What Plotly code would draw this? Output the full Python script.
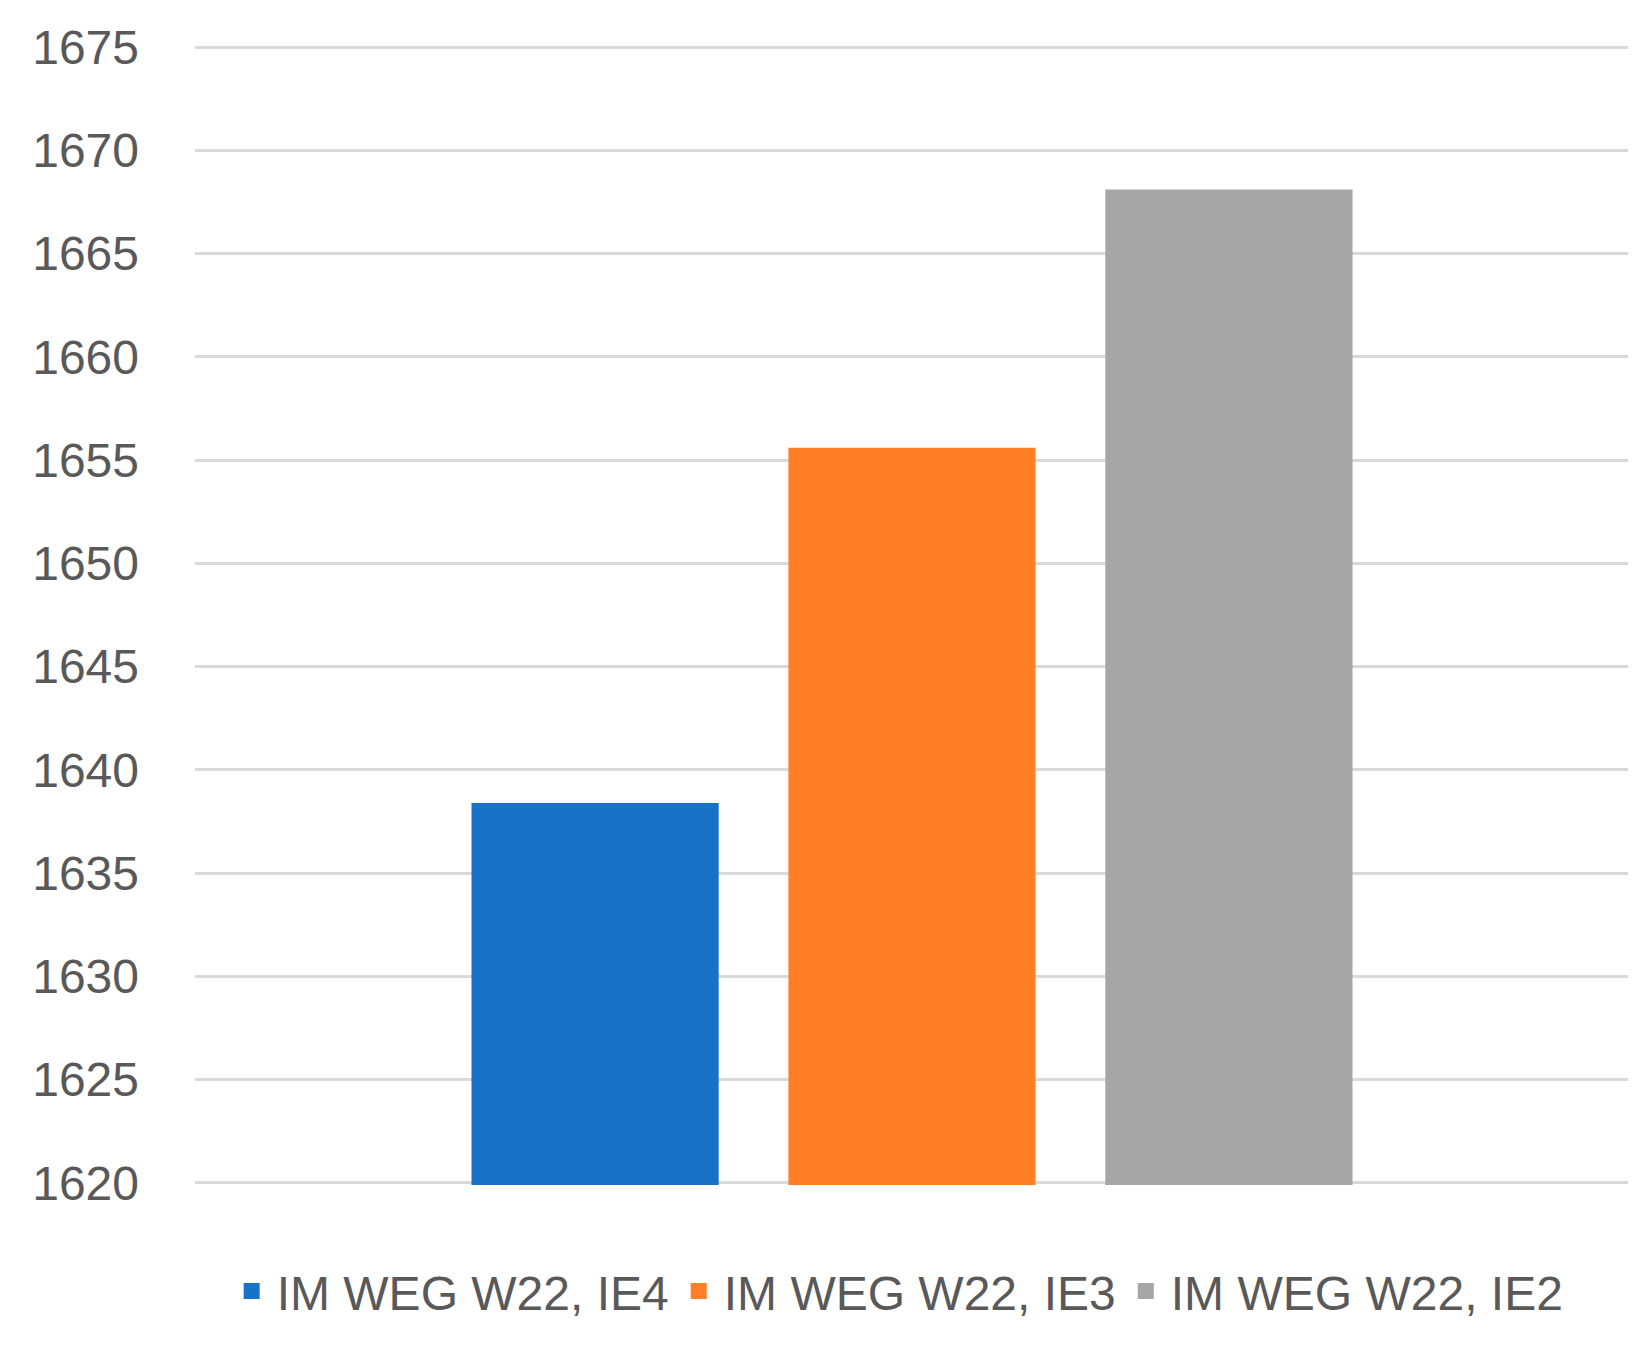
import plotly.graph_objects as go

series = ["IM WEG W22, IE4", "IM WEG W22, IE3", "IM WEG W22, IE2"]
values = [1638.4, 1655.6, 1668.1]
colors = ["#1772C8", "#FF7F27", "#A6A6A6"]
category = ["Motor"]

fig = go.Figure()
for name, v, c in zip(series, values, colors):
    fig.add_trace(go.Bar(x=category, y=[v], name=name, marker_color=c,
                         marker_line_width=0, showlegend=False))
for name, c in zip(series, colors):
    fig.add_trace(go.Scatter(x=[None], y=[None], mode="markers", name=name,
                             marker=dict(symbol="square", size=32, color=c)))

fig.update_layout(
    width=1636, height=1367,
    paper_bgcolor="white", plot_bgcolor="white",
    margin=dict(l=187, r=15, t=37, b=190),
    barmode="group", bargap=0.337, bargroupgap=0.22,
    font=dict(family="Liberation Sans, Arial", color="#595959", size=48),
    legend=dict(orientation="h", x=0.49, xanchor="center", y=-0.06, yanchor="top",
                font=dict(size=48), itemwidth=40, tracegroupgap=0),
)
fig.update_xaxes(showticklabels=False, showgrid=False, showline=False)
fig.update_yaxes(range=[1619.9, 1675.1], tickvals=list(range(1620, 1676, 5)),
                 showgrid=True, gridcolor="#D9D9D9",
                 gridwidth=3, zeroline=False, tickfont=dict(size=48, color="#595959"),
                 ticks="", ticklabelstandoff=55)
fig.write_html("out.html")
